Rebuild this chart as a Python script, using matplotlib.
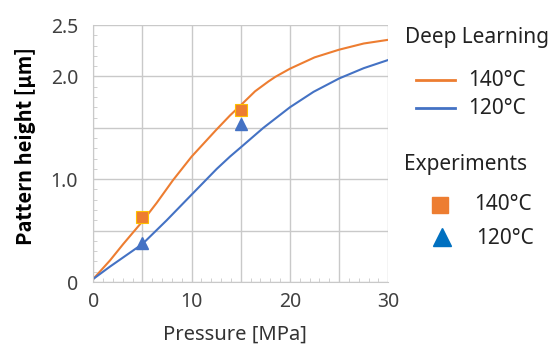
import numpy as np
import matplotlib
matplotlib.use("Agg")
import matplotlib.pyplot as plt
from matplotlib.lines import Line2D
from matplotlib.ticker import MultipleLocator, FixedLocator

plt.rcParams["font.family"] = ["Noto Sans", "DejaVu Sans"]

# ---- data ----
p_140 = [0, 1.7, 3.05, 5, 6.45, 8.1, 10, 12.5, 13.9, 15, 16.45, 17.8, 18.5, 20,
         22.5, 25, 27.5, 30]
dl_140 = [0.03, 0.21, 0.37, 0.59, 0.77, 0.99, 1.22, 1.48, 1.62, 1.72, 1.855, 1.95,
          1.995, 2.075, 2.185, 2.26, 2.32, 2.356]
p_120 = [0, 1.7, 5, 7.46, 10, 12.55, 13.9, 15, 17.3, 20, 22.4, 25, 27.5, 30]
dl_120 = [0.03, 0.15, 0.37, 0.6, 0.85, 1.1, 1.22, 1.31, 1.5, 1.7, 1.85, 1.98, 2.08, 2.16]

pressure_exp = [5, 15]
exp_140 = [0.634, 1.67]
exp_120 = [0.375, 1.54]

y_tick_vals = [0, 1.0, 2.0, 2.5]
y_tick_labels = ["0", "1.0", "2.0", "2.5"]
x_tick_vals = [0, 10, 20, 30]

ORANGE = "#ED7D31"
BLUE = "#4472C4"
BLUE_LEG = "#0070C0"
GRID = "#C9C9C9"
TXT = "#404040"

W, H = 560, 345
fig = plt.figure(figsize=(W / 100, H / 100), dpi=100)
ax = fig.add_axes([93.3 / W, 1 - 282 / H, 295 / W, 257 / H])

ax.plot(p_140, dl_140, color=ORANGE, lw=1.5)
ax.plot(p_120, dl_120, color=BLUE, lw=1.5)
ax.plot(pressure_exp, exp_140, ls="none", marker="s", ms=8,
        mfc=ORANGE, mec="#FFC000", mew=0.8)
ax.plot(pressure_exp, exp_120, ls="none", marker="^", ms=8,
        mfc=BLUE, mec=BLUE)

ax.set_xlim(0, 30)
ax.set_ylim(0, 2.5)

# grid every 5 MPa / 0.5 um, labels only at some of them
ax.xaxis.set_major_locator(FixedLocator(x_tick_vals))
ax.yaxis.set_major_locator(FixedLocator(y_tick_vals))
ax.set_yticklabels(y_tick_labels)
ax.xaxis.set_minor_locator(MultipleLocator(1))
ax.yaxis.set_minor_locator(MultipleLocator(0.1))
for v in np.arange(0, 30.1, 5):
    ax.axvline(v, color=GRID, lw=1, zorder=0)
for v in np.arange(0, 2.51, 0.5):
    ax.axhline(v, color=GRID, lw=1, zorder=0)

ax.tick_params(which="major", length=0, labelsize=14, labelcolor=TXT)
ax.tick_params(axis="y", which="major", pad=11)
ax.tick_params(axis="x", which="major", pad=7)
ax.tick_params(which="minor", direction="in", length=3, color=GRID)

for s in ["top", "right"]:
    ax.spines[s].set_visible(False)
for s in ["left", "bottom"]:
    ax.spines[s].set_color(GRID)

ax.set_xlabel("Pressure [MPa]", fontsize=14.5, color="#333333")
ax.xaxis.set_label_coords(0.48, -0.165)
ax.set_ylabel("Pattern height [μm]", fontsize=14.5, fontweight="bold",
              color="black", family=["Noto Sans CJK JP", "DejaVu Sans"])
ax.yaxis.set_label_coords(-0.195, 0.527)

# ---- legend, built by hand (two titled groups) ----
def fx(px):
    return px / W

def fy(py):
    return 1 - py / H

leg_kw = dict(fontsize=15, color="#222222", va="center", ha="left")
fig.text(fx(405), fy(38), "Deep Learning", **leg_kw)
fig.add_artist(Line2D([fx(416), fx(455)], [fy(80), fy(80)], color=ORANGE, lw=2,
                      transform=fig.transFigure))
fig.add_artist(Line2D([fx(416), fx(455)], [fy(108), fy(108)], color=BLUE, lw=2,
                      transform=fig.transFigure))
fig.text(fx(468), fy(80), "140°C", **leg_kw)
fig.text(fx(468), fy(108), "120°C", **leg_kw)

fig.text(fx(404), fy(164), "Experiments", **leg_kw)
fig.add_artist(Line2D([fx(440)], [fy(205)], ls="none", marker="s", ms=12,
                      mfc=ORANGE, mec=ORANGE, transform=fig.transFigure))
fig.add_artist(Line2D([fx(442)], [fy(237)], ls="none", marker="^", ms=13,
                      mfc=BLUE_LEG, mec=BLUE_LEG, transform=fig.transFigure))
fig.text(fx(474), fy(205), "140°C", **leg_kw)
fig.text(fx(476), fy(238), "120°C", **leg_kw)

fig.savefig("out.png", dpi=100)
